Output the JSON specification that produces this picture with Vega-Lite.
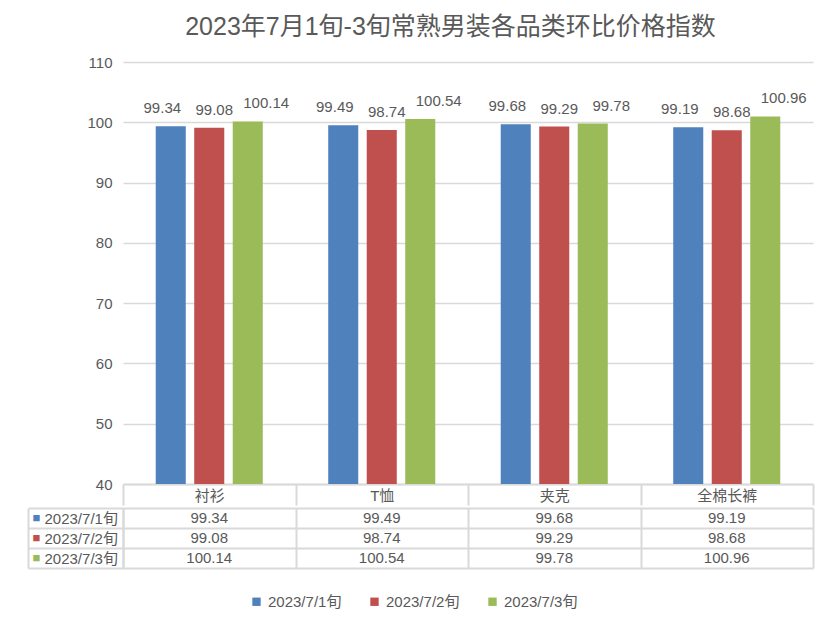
{
  "$schema": "https://vega.github.io/schema/vega-lite/v6.json",
  "padding": {"left": 27, "top": 15, "right": 20, "bottom": 10},
  "background": "white",
  "title": {"text": "2023年7月1旬-3旬常熟男装各品类环比价格指数", "fontSize": 25, "fontWeight": "normal", "color": "#595959", "anchor": "middle", "offset": 15, "dx": 30},
  "config": {
    "view": {"stroke": null},
    "font": "Liberation Sans, Noto Sans CJK SC",
    "axis": {"labelColor": "#595959", "labelFontSize": 15, "domainColor": "#d9d9d9", "gridColor": "#d9d9d9", "tickColor": "#d9d9d9", "title": null}
  },
  "datasets": {
    "d": [
      {"category": "衬衫", "series": "2023/7/1旬", "value": 99.34},
      {"category": "衬衫", "series": "2023/7/2旬", "value": 99.08},
      {"category": "衬衫", "series": "2023/7/3旬", "value": 100.14},
      {"category": "T恤", "series": "2023/7/1旬", "value": 99.49},
      {"category": "T恤", "series": "2023/7/2旬", "value": 98.74},
      {"category": "T恤", "series": "2023/7/3旬", "value": 100.54},
      {"category": "夹克", "series": "2023/7/1旬", "value": 99.68},
      {"category": "夹克", "series": "2023/7/2旬", "value": 99.29},
      {"category": "夹克", "series": "2023/7/3旬", "value": 99.78},
      {"category": "全棉长裤", "series": "2023/7/1旬", "value": 99.19},
      {"category": "全棉长裤", "series": "2023/7/2旬", "value": 98.68},
      {"category": "全棉长裤", "series": "2023/7/3旬", "value": 100.96}
    ]
  },
  "spacing": -5,
  "vconcat": [
    {
      "width": 690,
      "height": 422,
      "data": {"name": "d"},
      "encoding": {
        "x": {"field": "category", "type": "nominal", "sort": ["衬衫", "T恤", "夹克", "全棉长裤"],
          "scale": {"paddingInner": 0, "paddingOuter": 0},
          "axis": {"orient": "bottom", "tickBand": "extent", "ticks": true, "tickSize": 21, "tickWidth": 2, "domain": true, "domainWidth": 2, "labelAngle": 0, "labelBaseline": "middle", "labelPadding": -10, "grid": false}},
        "y": {"field": "value", "type": "quantitative",
          "scale": {"domain": [40, 110], "zero": false, "nice": false},
          "axis": {"values": [40, 50, 60, 70, 80, 90, 100, 110], "domain": false, "ticks": false, "labelPadding": 11, "gridWidth": 1.5}}
      },
      "layer": [
        {
          "mark": {"type": "bar"},
          "encoding": {
            "xOffset": {"field": "series", "type": "nominal", "scale": {"paddingInner": 0.22, "paddingOuter": 0.85}},
            "y2": {"datum": 40},
            "color": {"field": "series", "type": "nominal",
              "scale": {"domain": ["2023/7/1旬", "2023/7/2旬", "2023/7/3旬"], "range": ["#4f81bd", "#c0504d", "#9bbb59"]},
              "legend": {"orient": "none", "legendX": 126, "legendY": 532, "title": null, "direction": "horizontal", "symbolType": "square", "symbolSize": 70, "symbolStrokeWidth": 0, "labelFontSize": 15, "labelColor": "#595959", "columnPadding": 25, "labelOffset": 4}}
          }
        },
        {
          "mark": {"type": "text", "baseline": "bottom", "dy": -10, "dx": 5, "fontSize": 15, "color": "#595959"},
          "encoding": {
            "xOffset": {"field": "series", "type": "nominal", "scale": {"padding": 0.66}},
            "text": {"field": "value", "type": "quantitative", "format": ".2f"}
          }
        }
      ],
      "resolve": {"scale": {"xOffset": "independent"}}
    },
    {
      "width": 690,
      "height": 60,
      "data": {"name": "d"},
      "layer": [
        {
          "mark": {"type": "text", "fontSize": 15, "color": "#595959"},
          "encoding": {
            "x": {"field": "category", "type": "nominal", "sort": ["衬衫", "T恤", "夹克", "全棉长裤"],
              "scale": {"paddingInner": 0, "paddingOuter": 0},
              "axis": {"orient": "top", "tickBand": "extent", "grid": true, "gridWidth": 2, "labels": false, "ticks": false, "domain": false}},
            "y": {"field": "series", "type": "nominal", "sort": ["2023/7/1旬", "2023/7/2旬", "2023/7/3旬"],
              "scale": {"paddingInner": 0, "paddingOuter": 0},
              "axis": {"orient": "left", "tickBand": "extent", "grid": true, "gridWidth": 2, "ticks": true, "tickSize": 95, "tickWidth": 2, "domain": true, "domainWidth": 2, "labelAlign": "left", "labelPadding": -16}},
            "text": {"field": "value", "type": "quantitative", "format": ".2f"}
          }
        },
        {
          "mark": {"type": "text", "opacity": 0},
          "encoding": {
            "y": {"field": "series", "type": "nominal", "sort": ["2023/7/1旬", "2023/7/2旬", "2023/7/3旬"],
              "axis": {"orient": "left", "offset": 95, "ticks": false, "tickSize": 0, "grid": false, "domain": true, "domainWidth": 2, "labelExpr": "'■'", "labelAlign": "left", "labelPadding": -4, "labelFontSize": 13,
                "labelColor": {"condition": [{"test": "datum.value === '2023/7/1旬'", "value": "#4f81bd"}, {"test": "datum.value === '2023/7/2旬'", "value": "#c0504d"}], "value": "#9bbb59"}}},
            "text": {"value": ""}
          }
        }
      ],
      "resolve": {"axis": {"y": "independent"}}
    }
  ]
}
